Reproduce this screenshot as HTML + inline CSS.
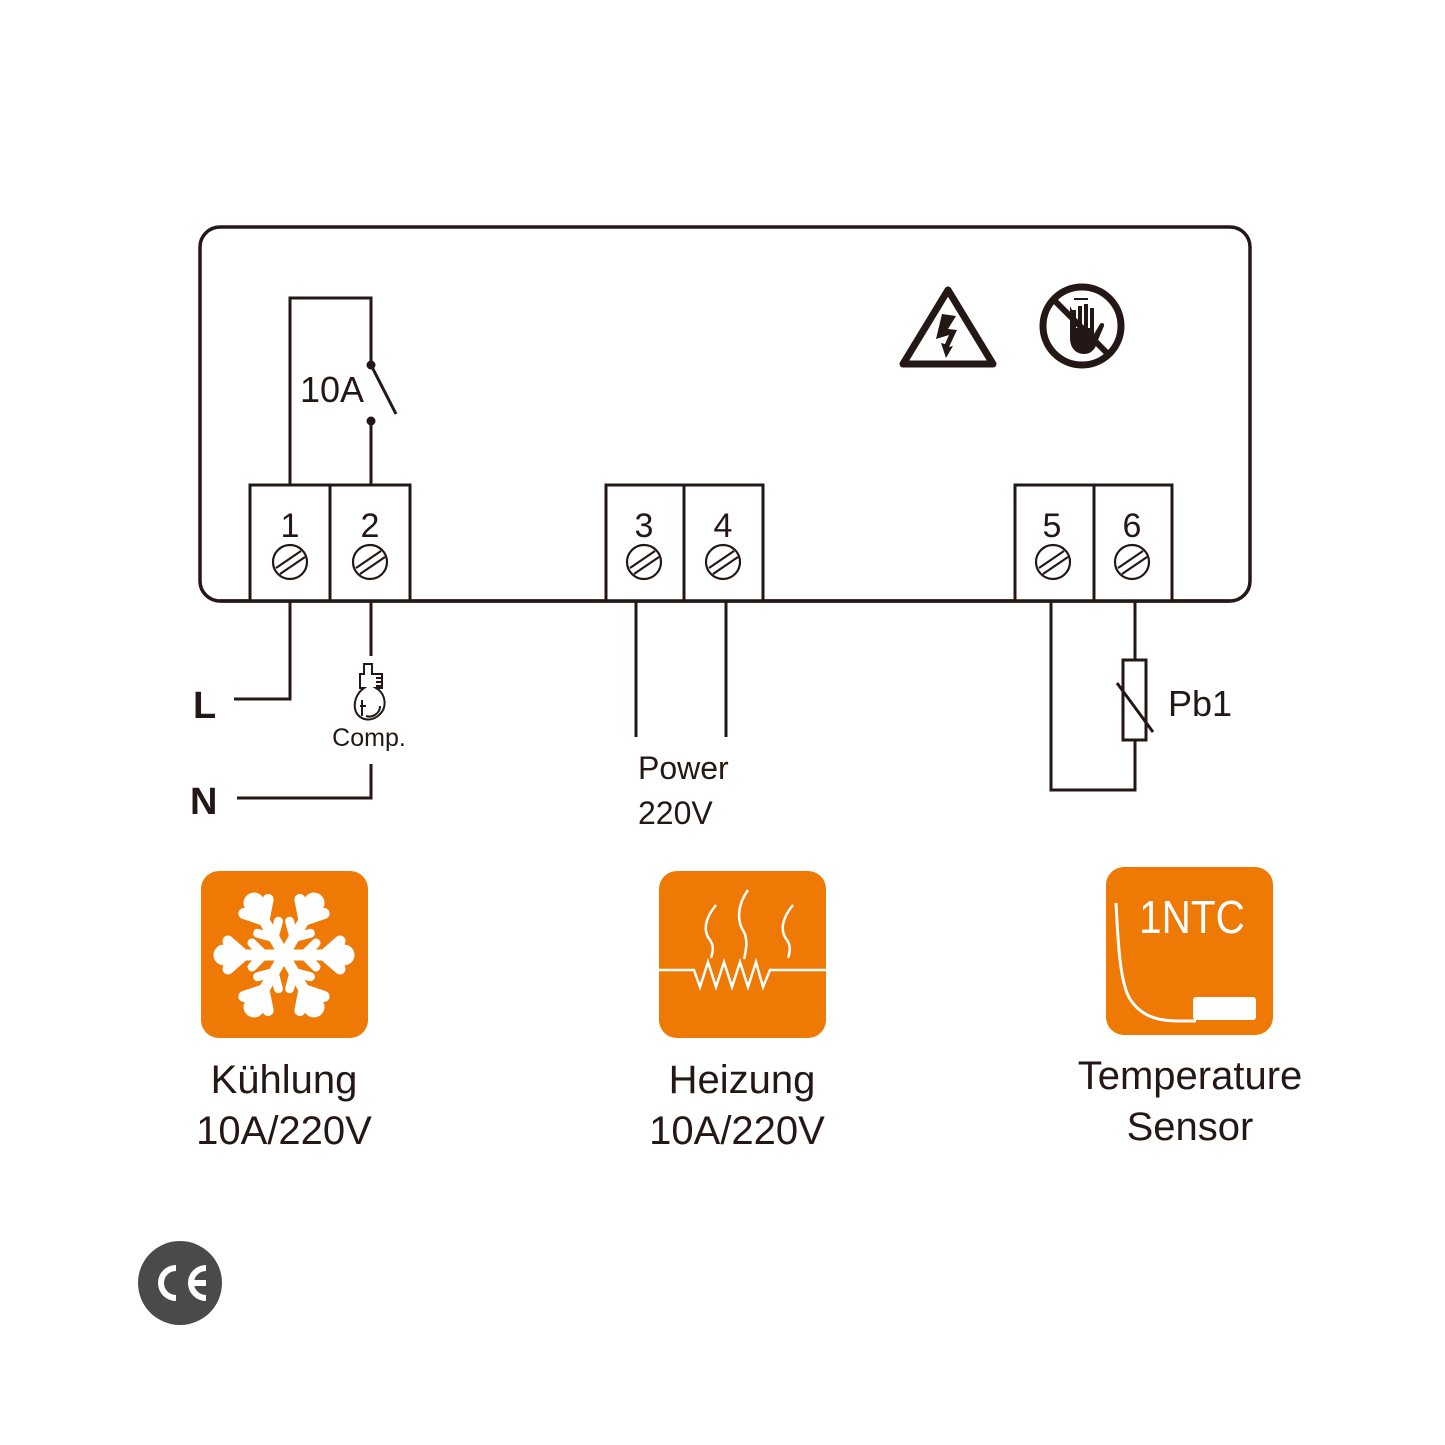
<!DOCTYPE html>
<html><head><meta charset="utf-8"><style>html,body{margin:0;padding:0;background:#fff}svg{display:block}</style></head>
<body>
<svg width="1445" height="1445" viewBox="0 0 1445 1445" xmlns="http://www.w3.org/2000/svg" font-family="Liberation Sans, sans-serif">
<rect width="1445" height="1445" fill="#fff"/>
<g fill="none" stroke="#231815" stroke-width="3.5">
<rect x="200" y="227" width="1050" height="374" rx="20"/>
</g>
<g fill="#fff" stroke="#231815" stroke-width="3">
<rect x="250" y="485" width="80" height="116"/><rect x="330" y="485" width="80" height="116"/>
<rect x="606" y="485" width="78" height="116"/><rect x="684" y="485" width="79" height="116"/>
<rect x="1015" y="485" width="79" height="116"/><rect x="1094" y="485" width="78" height="116"/>
</g>
<line x1="220" y1="601" x2="1230" y2="601" stroke="#231815" stroke-width="3.5"/>
<g font-size="34" fill="#231815" text-anchor="middle">
<text x="290" y="537">1</text><text x="370" y="537">2</text>
<text x="644" y="537">3</text><text x="723" y="537">4</text>
<text x="1052" y="537">5</text><text x="1132" y="537">6</text>
</g>
<g fill="none" stroke="#231815" stroke-width="2.2">
<g id="s"><circle cx="290" cy="562" r="17"/><line x1="276" y1="568" x2="301" y2="551"/><line x1="280" y1="574" x2="305" y2="557"/></g>
<use href="#s" x="80"/><use href="#s" x="354"/><use href="#s" x="433"/><use href="#s" x="763"/><use href="#s" x="842"/>
</g>
<g fill="none" stroke="#231815" stroke-width="3">
<polyline points="290,485 290,298 371,298 371,365"/>
<line x1="371" y1="365" x2="396" y2="414"/>
<line x1="371" y1="421" x2="371" y2="485"/>
<polyline points="290,601 290,699 234,699"/>
<line x1="371" y1="601" x2="371" y2="656"/>
<polyline points="237,798 371,798 371,764"/>
<line x1="636" y1="601" x2="636" y2="737"/>
<line x1="726" y1="601" x2="726" y2="737"/>
<polyline points="1135,601 1135,660"/>
<rect x="1123" y="660" width="23" height="80"/>
<polyline points="1135,740 1135,790 1051,790 1051,601"/>
<line x1="1117" y1="683" x2="1153" y2="732"/>
</g>
<circle cx="371" cy="365" r="4.5" fill="#231815"/><circle cx="371" cy="421" r="4.5" fill="#231815"/>
<text x="300" y="402" font-size="36" fill="#231815">10A</text>
<text x="193" y="718" font-size="38" font-weight="bold" fill="#231815">L</text>
<text x="190" y="814" font-size="38" font-weight="bold" fill="#231815">N</text>
<text x="369" y="746" font-size="25" fill="#231815" text-anchor="middle">Comp.</text>
<text x="638" y="779" font-size="32" fill="#231815">Power</text>
<text x="638" y="824" font-size="32" fill="#231815">220V</text>
<text x="1168" y="716" font-size="36" fill="#231815">Pb1</text>
<g fill="none" stroke="#231815" stroke-width="2">
<path d="M364,664 h8 v10 h10 v14 h-6 c10,6 12,20 2,28 c-8,6 -18,4 -22,-4 c-4,-10 2,-20 8,-24 h-4 v-14 h4 z"/>
<path d="M376,678 h5 M376,682 h5 M376,686 h5"/>
<path d="M362,700 v16 M360,706 h6 M380,706 c0,8 -8,12 -14,10"/>
</g>
<path d="M948,290 L903,364 L993,364 Z" fill="none" stroke="#231815" stroke-width="7" stroke-linejoin="round"/>
<polygon points="942,314 956,316 948,329 957,330 949,347 953,346 946,358 941,343 945,344 949,335 936,339" fill="#231815"/>
<circle cx="1082" cy="326" r="39" fill="none" stroke="#231815" stroke-width="7"/>
<path d="M1070,306 v32 c0,10 6,16 14,16 c8,0 12,-6 14,-14 l6,-14 c1,-3 -3,-4 -4,-2 l-6,10 v-26 h-4 v20 h-2 v-24 h-4 v24 h-2 v-22 h-4 v22 h-2 v-18 h-4z" fill="#231815"/>
<line x1="1052" y1="298" x2="1110" y2="356" stroke="#231815" stroke-width="6"/>
<line x1="1074" y1="299" x2="1088" y2="299" stroke="#231815" stroke-width="2"/>
<rect x="201" y="871" width="167" height="167" rx="18" fill="#ee7a05"/>
<rect x="659" y="871" width="167" height="167" rx="18" fill="#ee7a05"/>
<rect x="1106" y="867" width="167" height="168" rx="18" fill="#ee7a05"/>
<g stroke="#fff" stroke-linecap="round" fill="none" transform="translate(284,955) rotate(90)">
<g id="arm" stroke-width="11"><line x1="0" y1="0" x2="0" y2="-52"/><polyline points="-14,-56 0,-40 14,-56"/><polyline points="-12,-32 0,-20 12,-32" stroke-width="9"/><circle cx="0" cy="-60" r="5" fill="#fff"/></g>
<use href="#arm" transform="rotate(60)"/><use href="#arm" transform="rotate(120)"/><use href="#arm" transform="rotate(180)"/><use href="#arm" transform="rotate(240)"/><use href="#arm" transform="rotate(300)"/>
</g>
<g stroke="#fff" fill="none" stroke-width="2.5">
<polyline points="659,970 694,970 700,987 708,962 716,987 724,962 732,987 740,962 748,987 756,962 763,987 770,970 826,970"/>
<path d="M716,905 c-10,12 -14,25 -6,35 c4,6 3,12 1,18"/>
<path d="M748,890 c-10,14 -12,30 -4,42 c4,8 2,20 0,27"/>
<path d="M793,905 c-10,12 -14,25 -6,35 c4,6 3,12 1,18"/>
</g>
<text x="1192" y="933" font-size="46" fill="#fff" text-anchor="middle" transform="translate(1192,0) scale(0.88,1) translate(-1192,0)">1NTC</text>
<path d="M1116,903 c2,40 4,80 14,96 c10,16 26,22 48,22 h18" fill="none" stroke="#fff" stroke-width="3"/>
<rect x="1193" y="997" width="63" height="23" rx="3" fill="#fff"/>
<g font-size="40" fill="#231815" text-anchor="middle">
<text x="284" y="1093">Kühlung</text><text x="284" y="1144">10A/220V</text>
<text x="742" y="1093">Heizung</text><text x="737" y="1144">10A/220V</text>
<text x="1190" y="1089">Temperature</text><text x="1190" y="1140">Sensor</text>
</g>
<circle cx="180" cy="1283" r="42" fill="#4a4a4a"/>
<path d="M176,1268 a15,15 0 1 0 0,30" fill="none" stroke="#fff" stroke-width="6"/>
<path d="M206,1268 a15,15 0 1 0 0,30 M191,1283 h15" fill="none" stroke="#fff" stroke-width="6"/>
</svg>
</body></html>
